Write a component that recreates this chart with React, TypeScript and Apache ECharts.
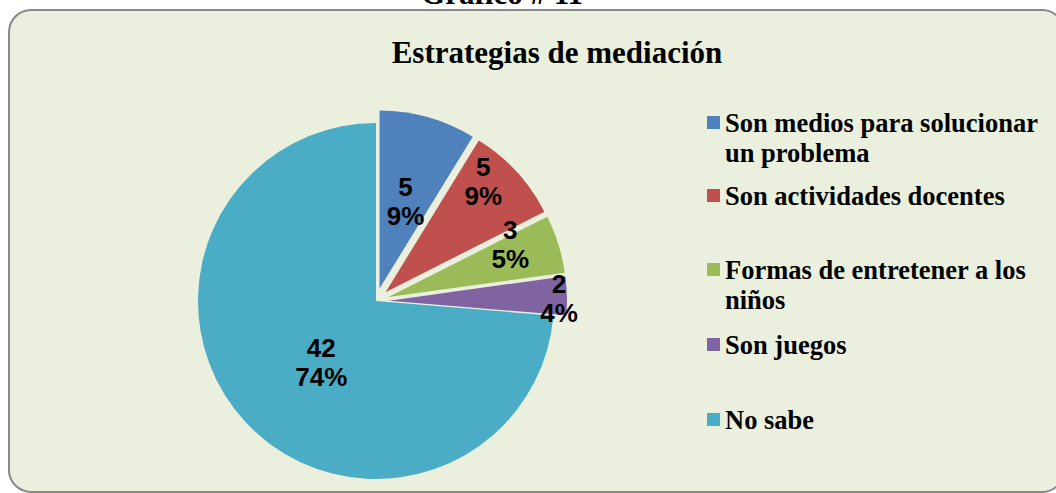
import React, { useEffect, useRef } from "react";
import * as echarts from "echarts";

const categories = [
  "Son medios para solucionar un problema",
  "Son actividades docentes",
  "Formas de entretener a los niños",
  "Son juegos",
  "No sabe",
];
const legendLabels = [
  "Son medios para solucionar\nun problema",
  "Son actividades docentes",
  "Formas de entretener a los\nniños",
  "Son juegos",
  "No sabe",
];
const values = [5, 5, 3, 2, 42];
const colors = ["#4F81BD", "#C0504D", "#9BBB59", "#8064A2", "#4BACC6"];
const exploded = [true, true, true, true, false];
// label nudges (style only)
const labelShift = [
  [1, 2],
  [30, -48],
  [34, -25],
  [78, 0],
  [13, -1],
];
const legendIconTops = [116, 189, 263, 338, 413];

const total = values.reduce((a, b) => a + b, 0);

export default function App() {
  const ref = useRef<HTMLDivElement>(null);
  useEffect(() => {
    if (!ref.current) return;
    const chart = echarts.init(ref.current, undefined, { renderer: "svg" });
    const legends = categories.map((name, i) => {
      const twoLines = legendLabels[i].includes("\n");
      return {
        show: true,
        orient: "vertical",
        left: 707,
        top: legendIconTops[i] - (twoLines ? 38.5 : 8.5),
        padding: 0,
        itemWidth: 13,
        itemHeight: 13,
        itemGap: 0,
        icon: "rect",
        selectedMode: false,
        data: [name],
        formatter: () => (twoLines ? "\n" + legendLabels[i] : legendLabels[i]),
        textStyle: {
          fontFamily: "Liberation Serif",
          fontWeight: "bold",
          fontSize: 26.5,
          lineHeight: 30,
          color: "#000",
        },
      };
    });
    chart.setOption({
      animation: false,
      backgroundColor: "#ffffff",
      title: {
        text: "Estrategias de mediación",
        left: 557,
        top: 37,
        textAlign: "center",
        padding: 0,
        textStyle: {
          fontFamily: "Liberation Serif",
          fontWeight: "bold",
          fontSize: 31,
          color: "#000",
        },
      },
      graphic: [
        {
          type: "rect",
          z: -10,
          shape: { x: 9, y: 10, width: 1055, height: 482, r: 22 },
          style: { fill: "#EBF0DE", stroke: "#898989", lineWidth: 2 },
          silent: true,
        },
        {
          type: "text",
          z: -5,
          x: 502,
          y: 9,
          style: {
            text: "Gráfico # 11",
            fontFamily: "Liberation Serif",
            fontWeight: "bold",
            fontSize: 31,
            fill: "#000",
            align: "center",
            verticalAlign: "bottom",
          },
          silent: true,
        },
      ],
      legend: legends,
      series: [
        {
          type: "pie",
          center: [376, 301],
          radius: [0, 178],
          startAngle: 90,
          clockwise: true,
          selectedMode: "multiple",
          selectedOffset: 13,
          avoidLabelOverlap: false,
          emphasis: { disabled: true },
          itemStyle: { borderWidth: 0 },
          label: {
            show: true,
            position: "inside",
            formatter: (p: any) =>
              `${p.value}\n${Math.round((p.value / total) * 100)}%`,
            fontFamily: "Liberation Sans",
            fontWeight: "bold",
            fontSize: 26,
            lineHeight: 29,
            color: "#000",
          },
          labelLine: { show: false },
          labelLayout: (params: any) => {
            const s = labelShift[params.dataIndex] || [0, 0];
            return { dx: s[0], dy: s[1] };
          },
          data: categories.map((name, i) => ({
            name,
            value: values[i],
            selected: exploded[i],
            itemStyle: { color: colors[i] },
            select: { itemStyle: { color: colors[i] } },
          })),
        },
      ],
    });
    return () => chart.dispose();
  }, []);
  return (
    <div
      ref={ref}
      style={{ position: "fixed", left: 0, top: 0, width: 1056, height: 493 }}
    />
  );
}
